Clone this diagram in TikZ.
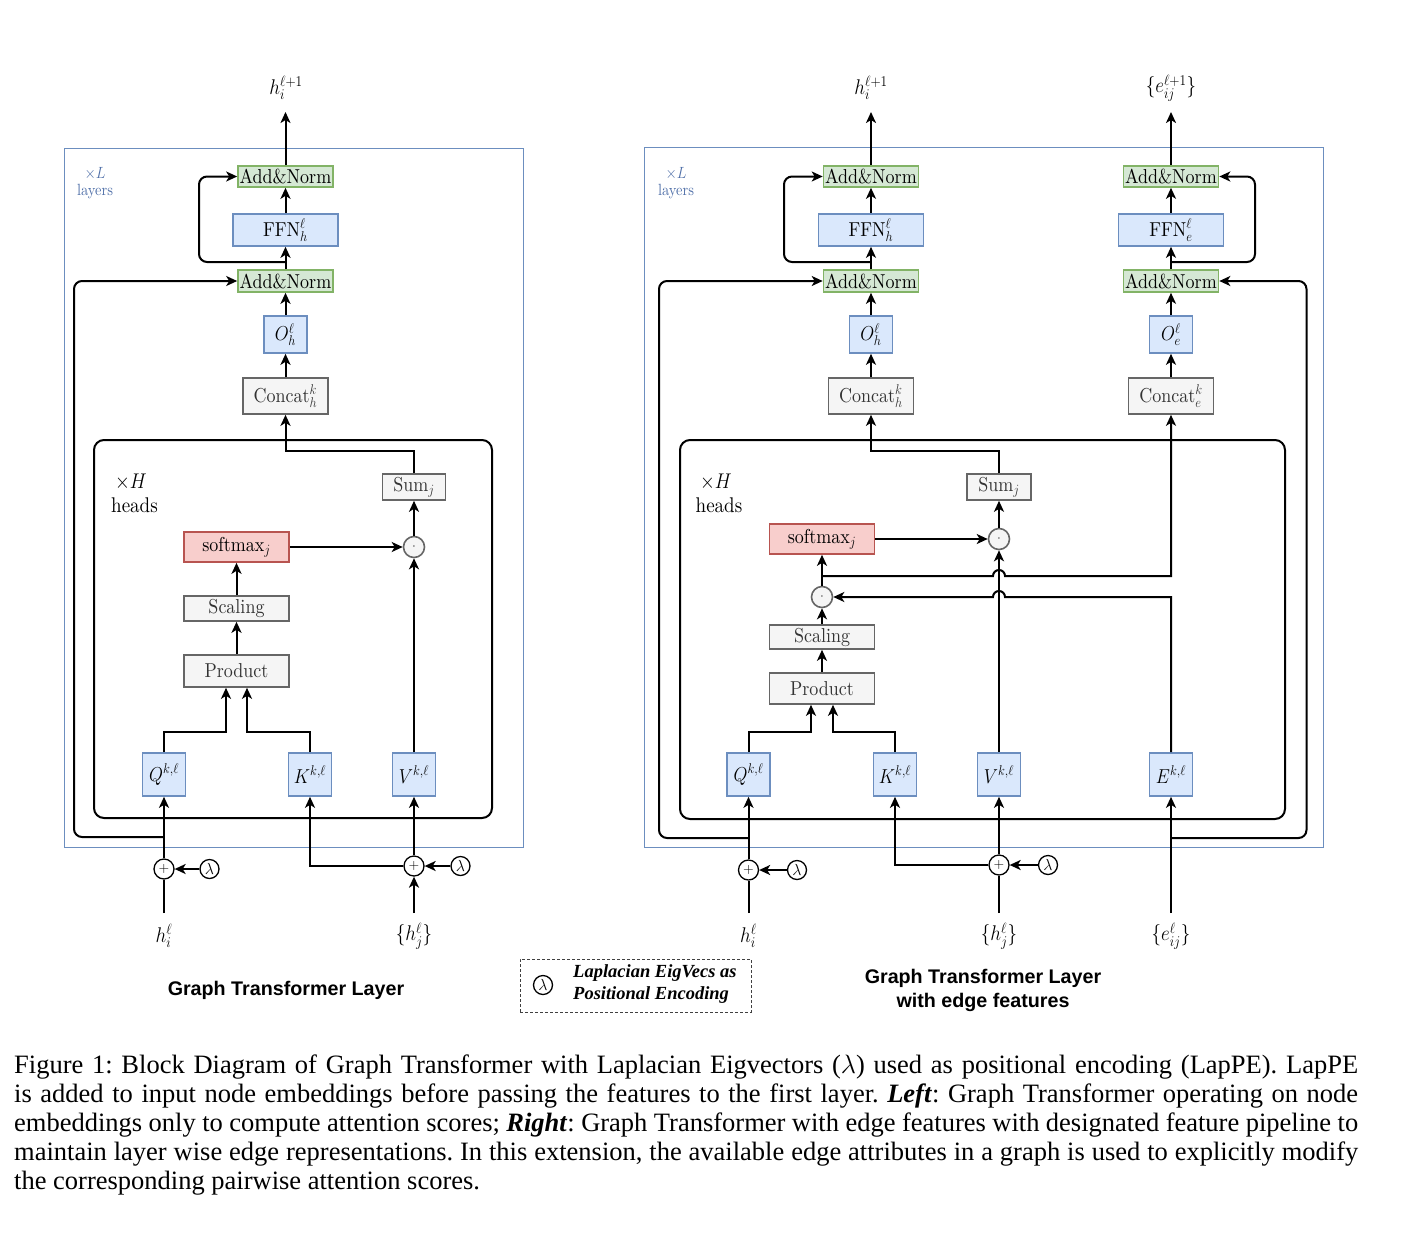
\documentclass[tikz,border=0pt]{standalone}
\usepackage{fix-cm}
\usepackage{graphicx}
\usepackage{fontspec}
\setmainfont{lmroman10-regular.otf}[BoldFont=lmroman10-bold.otf,ItalicFont=lmroman10-italic.otf,BoldItalicFont=lmroman10-bolditalic.otf]
\newfontfamily\capfont{Liberation Serif}
\newfontfamily\ttlfont{Liberation Sans}
\newcommand{\vst}[1]{\scalebox{1}[1.12]{#1}}
\usetikzlibrary{arrows.meta,calc}
\definecolor{gfill}{HTML}{D5E8D4}
\definecolor{gdraw}{HTML}{82B366}
\definecolor{bfill}{HTML}{DAE8FC}
\definecolor{bdraw}{HTML}{6C8EBF}
\definecolor{yfill}{HTML}{F5F5F5}
\definecolor{ydraw}{HTML}{666666}
\definecolor{ytext}{HTML}{333333}
\definecolor{rfill}{HTML}{F8CECC}
\definecolor{rdraw}{HTML}{B85450}
\definecolor{lgblue}{HTML}{4F6FA8}
\tikzset{
  ln/.style={line width=2pt},
  arr/.style={line width=2pt,-{Stealth[length=11pt,width=10pt,inset=3pt]}},
  bx/.style={draw,line width=1.6pt,inner sep=0pt,font=\fontsize{18}{20}\selectfont},
  gbox/.style={bx,fill=gfill,draw=gdraw,minimum width=95pt,minimum height=21pt},
  bluebox/.style={bx,fill=bfill,draw=bdraw},
  qbox/.style={bluebox,minimum width=43pt,minimum height=43pt},
  ybox/.style={bx,fill=yfill,draw=ydraw,text=ytext},
  rbox/.style={bx,fill=rfill,draw=rdraw},
  dotc/.style={circle,draw=ydraw,fill=yfill,line width=1.6pt,minimum size=21pt,inner sep=0pt,font=\fontsize{12}{12}\selectfont},
  plusc/.style={circle,draw,fill=white,line width=1.3pt,minimum size=20pt,inner sep=0pt,font=\fontsize{14}{14}\selectfont},
  lamc/.style={circle,draw,fill=white,line width=1.3pt,minimum size=19pt,inner sep=0pt,font=\fontsize{16}{16}\selectfont},
  lbl/.style={inner sep=0pt,font=\fontsize{19}{21}\selectfont},
  smlbl/.style={inner sep=0pt,text=lgblue,font=\fontsize{14.5}{15}\selectfont},
  frame/.style={draw=bdraw,line width=1pt},
  inbox/.style={line width=2pt,rounded corners=10pt},
  ttl/.style={inner sep=0pt,align=center,font=\ttlfont\bfseries\fontsize{19.7}{24}\selectfont},
}
\begin{document}
\begin{tikzpicture}[x=1pt,y=-1pt]
\useasboundingbox (0,0) rectangle (1408,1232);

% ================= LEFT =================
\draw[frame] (64,148) rectangle (523,847);
\draw[inbox] (94,440) rectangle (492,818);

\node[gbox] (anTL) at (285.5,176.5) {\vst{Add\&Norm}};
\node[bluebox,minimum width=105pt,minimum height=32pt] (ffnL) at (285.5,230) {\vst{FFN$^{\ell}_{h}$}};
\node[gbox,minimum height=22pt] (anBL) at (285.5,281) {\vst{Add\&Norm}};
\node[bluebox,minimum width=43pt,minimum height=37pt] (oL) at (285.5,334.5) {\vst{$O^{\ell}_{h}$}};
\node[ybox,minimum width=85pt,minimum height=36pt] (catL) at (285.5,396) {\vst{Concat$^{k}_{h}$}};
\node[ybox,minimum width=63pt,minimum height=26pt] (sumL) at (414,487) {\vst{Sum$_j$}};
\node[dotc] (dotL) at (414,547) {$\cdot$};
\node[rbox,minimum width=105pt,minimum height=30pt] (smL) at (236.5,547) {\vst{softmax$_j$}};
\node[ybox,minimum width=105pt,minimum height=25pt] (scL) at (236.5,608.5) {\vst{Scaling}};
\node[ybox,minimum width=105pt,minimum height=32pt] (prL) at (236.5,671) {\vst{Product}};
\node[qbox] (qL) at (164,774.5) {\vst{$Q^{k,\ell}$}};
\node[qbox] (kL) at (310,774.5) {\vst{$K^{k,\ell}$}};
\node[qbox] (vL) at (414,774.5) {\vst{$V^{k,\ell}$}};
\node[plusc] (pL1) at (164,869) {$+$};
\node[lamc] (lL1) at (209.5,869) {$\lambda$};
\node[plusc] (pL2) at (414,866) {$+$};
\node[lamc] (lL2) at (460.5,866) {$\lambda$};
\node[lbl] (hiL) at (164,936) {\vst{$h^{\ell}_{i}$}};
\node[lbl] (hjL) at (414,936) {\vst{$\{h^{\ell}_{j}\}$}};
\node[lbl] (outL) at (286,88) {\vst{$h^{\ell+1}_{i}$}};
\node[smlbl] (xLL) at (95,174) {\vst{$\times L$}};
\node[smlbl] (layL) at (95,192) {\vst{layers}};
\node[lbl] (xHL) at (131,482) {\vst{$\times H$}};
\node[lbl] (headsL) at (134.5,505) {\vst{heads}};
\coordinate (outLc) at (285.5,112);
\coordinate (hiLc) at (164,913);
\coordinate (hjLc) at (414,913);
\coordinate (rsL) at (285.5,262);
\coordinate (lpL) at (164,837);

\draw[arr] (anTL.north) -- (outLc);
\draw[arr] (ffnL.north) -- (anTL.south);
\draw[arr] (anBL.north) -- (ffnL.south);
\draw[arr,rounded corners=8pt] (rsL) -- (199,262) -- (199,176.5) -- (anTL.west);
\draw[arr,rounded corners=8pt] (lpL) -- (74,837) -- (74,281) -- (anBL.west);
\draw[arr] (oL.north) -- (anBL.south);
\draw[arr] (catL.north) -- (oL.south);
\draw[arr] (sumL.north) -- (414,451) -- (285.5,451) -- (catL.south);
\draw[arr] (dotL.north) -- (sumL.south);
\draw[arr] (smL.east) -- (dotL.west);
\draw[arr] (scL.north) -- (smL.south);
\draw[arr] (prL.north) -- (scL.south);
\draw[arr] (qL.north) -- (qL.north |- 0,732) -- ([xshift=-10.5pt]prL.south |- 0,732) -- ([xshift=-10.5pt]prL.south);
\draw[arr] (kL.north) -- (kL.north |- 0,732) -- ([xshift=10.5pt]prL.south |- 0,732) -- ([xshift=10.5pt]prL.south);
\draw[arr] (vL.north) -- (dotL.south);
\draw[arr] (pL1.north) -- (qL.south);
\draw[ln] (hiLc) -- (pL1.south);
\draw[arr] (lL1.west) -- (pL1.east);
\draw[arr] (hjLc) -- (pL2.south);
\draw[arr] (pL2.north) -- (vL.south);
\draw[arr] (pL2.west) -- (kL.south |- pL2.west) -- (kL.south);
\draw[arr] (lL2.west) -- (pL2.east);

% ================= RIGHT =================
\draw[frame] (644,147) rectangle (1323,847);
\draw[inbox] (680,440) rectangle (1285,819);

\node[gbox] (anTR) at (871,176.5) {\vst{Add\&Norm}};
\node[bluebox,minimum width=105pt,minimum height=32pt] (ffnR) at (871,230) {\vst{FFN$^{\ell}_{h}$}};
\node[gbox,minimum height=22pt] (anBR) at (871,281) {\vst{Add\&Norm}};
\node[bluebox,minimum width=43pt,minimum height=37pt] (oR) at (871,334.5) {\vst{$O^{\ell}_{h}$}};
\node[ybox,minimum width=85pt,minimum height=36pt] (catR) at (871,396) {\vst{Concat$^{k}_{h}$}};
\node[gbox] (anTE) at (1171,176.5) {\vst{Add\&Norm}};
\node[bluebox,minimum width=105pt,minimum height=32pt] (ffnE) at (1171,230) {\vst{FFN$^{\ell}_{e}$}};
\node[gbox,minimum height=22pt] (anBE) at (1171,281) {\vst{Add\&Norm}};
\node[bluebox,minimum width=43pt,minimum height=37pt] (oE) at (1171,334.5) {\vst{$O^{\ell}_{e}$}};
\node[ybox,minimum width=85pt,minimum height=36pt] (catE) at (1171,396) {\vst{Concat$^{k}_{e}$}};
\node[ybox,minimum width=64pt,minimum height=26pt] (sumR) at (999,487) {\vst{Sum$_j$}};
\node[dotc] (dotR1) at (999,539) {$\cdot$};
\node[rbox,minimum width=105pt,minimum height=30pt] (smR) at (822,539) {\vst{softmax$_j$}};
\node[dotc] (dotR2) at (822,597) {$\cdot$};
\node[ybox,minimum width=105pt,minimum height=24pt] (scR) at (822,637) {\vst{Scaling}};
\node[ybox,minimum width=105pt,minimum height=31pt] (prR) at (822,688.5) {\vst{Product}};
\node[qbox] (qR) at (748.5,774.5) {\vst{$Q^{k,\ell}$}};
\node[qbox] (kR) at (895,774.5) {\vst{$K^{k,\ell}$}};
\node[qbox] (vR) at (999,774.5) {\vst{$V^{k,\ell}$}};
\node[qbox] (eR) at (1171,774.5) {\vst{$E^{k,\ell}$}};
\node[plusc] (pR1) at (748.5,870) {$+$};
\node[lamc] (lR1) at (797,870) {$\lambda$};
\node[plusc] (pR2) at (999,865) {$+$};
\node[lamc] (lR2) at (1048,865) {$\lambda$};
\node[lbl] (hiR) at (748.5,936) {\vst{$h^{\ell}_{i}$}};
\node[lbl] (hjR) at (999,936) {\vst{$\{h^{\ell}_{j}\}$}};
\node[lbl] (eijR) at (1171,936) {\vst{$\{e^{\ell}_{ij}\}$}};
\node[lbl] (outR) at (871,88) {\vst{$h^{\ell+1}_{i}$}};
\node[lbl] (outE) at (1171,88) {\vst{$\{e^{\ell+1}_{ij}\}$}};
\node[smlbl] (xLR) at (676,174) {\vst{$\times L$}};
\node[smlbl] (layR) at (676,192) {\vst{layers}};
\node[lbl] (xHR) at (716,482) {\vst{$\times H$}};
\node[lbl] (headsR) at (719,505) {\vst{heads}};
\coordinate (outRc) at (871,112);
\coordinate (outEc) at (1171,112);
\coordinate (hiRc) at (748.5,913);
\coordinate (hjRc) at (999,913);
\coordinate (eijRc) at (1171,913);
\coordinate (rsR) at (871,262);
\coordinate (rsE) at (1171,262);
\coordinate (lpR) at (748.5,838);
\coordinate (lpE) at (1171,838);
\coordinate (jn) at (822,576);

\draw[arr] (anTR.north) -- (outRc);
\draw[arr] (anTE.north) -- (outEc);
\draw[arr] (ffnR.north) -- (anTR.south);
\draw[arr] (anBR.north) -- (ffnR.south);
\draw[arr] (oR.north) -- (anBR.south);
\draw[arr] (catR.north) -- (oR.south);
\draw[arr] (ffnE.north) -- (anTE.south);
\draw[arr] (anBE.north) -- (ffnE.south);
\draw[arr] (oE.north) -- (anBE.south);
\draw[arr] (catE.north) -- (oE.south);
\draw[arr,rounded corners=8pt] (rsR) -- (784,262) -- (784,176.5) -- (anTR.west);
\draw[arr,rounded corners=8pt] (rsE) -- (1255,262) -- (1255,176.5) -- (anTE.east);
\draw[arr,rounded corners=8pt] (lpR) -- (659,838) -- (659,281) -- (anBR.west);
\draw[arr,rounded corners=8pt] (lpE) -- (1306.5,838) -- (1306.5,281) -- (anBE.east);
\draw[arr] (sumR.north) -- (999,451) -- (871,451) -- (catR.south);
\draw[arr] (dotR1.north) -- (sumR.south);
\draw[arr] (smR.east) -- (dotR1.west);
\draw[arr] (vR.north) -- (dotR1.south);
\draw[arr] (dotR2.north) -- (smR.south);
\draw[arr] (scR.north) -- (dotR2.south);
\draw[arr] (prR.north) -- (scR.south);
\draw[arr] (jn) -- (993,576) arc[start angle=180,end angle=0,radius=6pt] -- (catE.south |- 0,576) -- (catE.south);
\draw[arr] (eR.north) -- (eR.north |- 0,597) -- (1005,597) arc[start angle=0,end angle=180,radius=6pt] -- (dotR2.east);
\draw[arr] (qR.north) -- (qR.north |- 0,732) -- ([xshift=-11pt]prR.south |- 0,732) -- ([xshift=-11pt]prR.south);
\draw[arr] (kR.north) -- (kR.north |- 0,732) -- ([xshift=11pt]prR.south |- 0,732) -- ([xshift=11pt]prR.south);
\draw[arr] (pR1.north) -- (qR.south);
\draw[ln] (hiRc) -- (pR1.south);
\draw[arr] (lR1.west) -- (pR1.east);
\draw[ln] (hjRc) -- (pR2.south);
\draw[arr] (pR2.north) -- (vR.south);
\draw[arr] (pR2.west) -- (kR.south |- pR2.west) -- (kR.south);
\draw[arr] (lR2.west) -- (pR2.east);
\draw[arr] (eijRc) -- (eR.south);

% ================= TITLES & LEGEND =================
\node[ttl] (ttlL) at (286,990) {Graph Transformer Layer};
\node[ttl] (ttlR) at (983,990) {Graph Transformer Layer\\with edge features};
\node[draw=black!75,dash pattern=on 3pt off 2pt,line width=1pt,minimum width=231pt,minimum height=53pt,inner sep=0pt] (leg) at (635.5,985.5) {};
\node[lamc] (legL) at (543,985) {$\lambda$};
\node[anchor=west,inner sep=0pt,align=left,font=\capfont\bfseries\itshape\fontsize{18.5}{22}\selectfont] (legT) at (573,984) {Laplacian EigVecs as\\Positional Encoding};

% ================= CAPTION =================
\node[anchor=north west,inner sep=0pt,text width=1344pt,align=justify,font=\capfont\fontsize{26.5}{29}\selectfont\frenchspacing] (cap) at (14,1055) {Figure 1: Block Diagram of Graph Transformer with Laplacian Eigvectors ($\lambda$) used as positional encoding (LapPE). LapPE\linebreak is added to input node embeddings before passing the features to the first layer. \textbf{\textit{Left}}: Graph Transformer operating on node\linebreak embeddings only to compute attention scores; \textbf{\textit{Right}}: Graph Transformer with edge features with designated feature pipeline to\linebreak maintain layer wise edge representations. In this extension, the available edge attributes in a graph is used to explicitly modify\linebreak the corresponding pairwise attention scores.};
\end{tikzpicture}
\end{document}
